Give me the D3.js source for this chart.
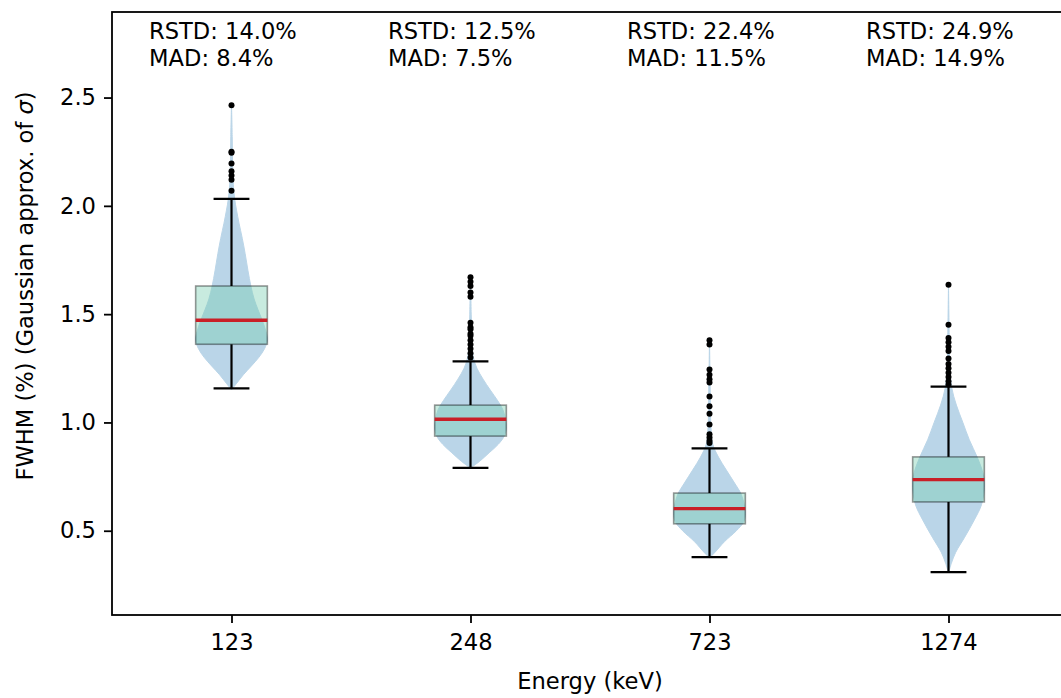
<!DOCTYPE html>
<html>
<head>
<meta charset="utf-8">
<script src="https://cdn.jsdelivr.net/npm/d3@7"></script>
<style>
  body { margin: 0; background: #fff; }
  text { font-family: "DejaVu Sans", sans-serif; fill: #000; }
</style>
</head>
<body>
<svg id="chart" width="1061" height="698"></svg>
<script>
// Energy lines (keV) and box statistics of FWHM (%)
const energies = ["123", "248", "723", "1274"];
const lowerWhiskers = [1.157, 0.790, 0.378, 0.309];
const q1Values = [1.361, 0.937, 0.532, 0.633];
const medians = [1.472, 1.015, 0.602, 0.736];
const q3Values = [1.630, 1.080, 0.674, 0.841];
const upperWhiskers = [2.032, 1.282, 0.880, 1.165];

// Points beyond the whiskers
const outliers123 = [2.465, 2.25, 2.245, 2.195, 2.16, 2.14, 2.12, 2.07];
const outliers248 = [1.67, 1.65, 1.63, 1.60, 1.58, 1.46, 1.44, 1.43, 1.41, 1.40, 1.38, 1.36, 1.34, 1.32, 1.30];
const outliers723 = [1.38, 1.36, 1.245, 1.22, 1.20, 1.185, 1.12, 1.075, 1.04, 0.99, 0.945, 0.93, 0.915, 0.905];
const outliers1274 = [1.636, 1.451, 1.39, 1.37, 1.35, 1.33, 1.295, 1.27, 1.25, 1.23, 1.21, 1.19, 1.175];

// Kernel density profiles: [FWHM value, relative density]
const density123 = [[1.15,0],[1.18,0.14],[1.22,0.33],[1.26,0.55],[1.30,0.76],[1.34,0.92],[1.38,1.0],[1.42,0.96],[1.47,0.86],[1.52,0.74],[1.57,0.63],[1.63,0.54],[1.70,0.46],[1.78,0.38],[1.85,0.30],[1.92,0.21],[1.98,0.14],[2.03,0.09],[2.10,0.05],[2.20,0.03],[2.32,0.02],[2.465,0]];
const density248 = [[0.79,0],[0.82,0.25],[0.86,0.52],[0.90,0.78],[0.94,0.95],[0.98,1.0],[1.02,0.97],[1.06,0.9],[1.10,0.76],[1.15,0.55],[1.20,0.35],[1.25,0.18],[1.30,0.08],[1.38,0.04],[1.50,0.02],[1.67,0]];
const density723 = [[0.375,0],[0.40,0.15],[0.45,0.42],[0.50,0.75],[0.54,0.95],[0.58,1.0],[0.62,0.97],[0.67,0.88],[0.72,0.7],[0.78,0.47],[0.84,0.25],[0.90,0.09],[0.98,0.04],[1.15,0.02],[1.38,0]];
const density1274 = [[0.305,0],[0.35,0.08],[0.40,0.2],[0.47,0.45],[0.55,0.72],[0.62,0.92],[0.70,1.0],[0.76,0.97],[0.84,0.80],[0.92,0.58],[1.00,0.40],[1.08,0.22],[1.16,0.09],[1.25,0.04],[1.40,0.02],[1.636,0]];

const outlierSets = [outliers123, outliers248, outliers723, outliers1274];
const densities = [density123, density248, density723, density1274];

// Spread measures printed above each group
const rstdLabels = ["14.0%", "12.5%", "22.4%", "24.9%"];
const madLabels = ["8.4%", "7.5%", "11.5%", "14.9%"];

const yTicks = [0.5, 1.0, 1.5, 2.0, 2.5];

const svg = d3.select("#chart");
const plotLeft = 112, plotRight = 1068, plotTop = 12, plotBottom = 615;
const FS = 22.6;

const x = d3.scaleLinear().domain([0.5, 4.5]).range([plotLeft, plotRight]);
const y = d3.scaleLinear().domain([0.111, 2.895]).range([plotBottom, plotTop]);

const boxW = 0.3, capW = 0.15, violinW = 0.3;
const pxPerUnit = x(1) - x(0);

const plot = svg.append("g");

energies.forEach((e, i) => {
  const cx = x(i + 1);
  const half = violinW * pxPerUnit / 2;

  // violin body
  const area = d3.area()
    .curve(d3.curveCatmullRom)
    .y(d => y(d[0]))
    .x0(d => cx - half * d[1])
    .x1(d => cx + half * d[1]);
  plot.append("path")
    .attr("d", area(densities[i]))
    .attr("fill", "#1f77b4")
    .attr("stroke", "#1f77b4")
    .attr("stroke-width", 1)
    .attr("opacity", 0.3);

  // whiskers and caps
  const capHalf = capW * pxPerUnit / 2;
  const lines = [
    [cx, y(upperWhiskers[i]), cx, y(q3Values[i])],
    [cx, y(q1Values[i]), cx, y(lowerWhiskers[i])],
    [cx - capHalf, y(upperWhiskers[i]), cx + capHalf, y(upperWhiskers[i])],
    [cx - capHalf, y(lowerWhiskers[i]), cx + capHalf, y(lowerWhiskers[i])]
  ];
  lines.forEach(l => {
    plot.append("line")
      .attr("x1", l[0]).attr("y1", l[1]).attr("x2", l[2]).attr("y2", l[3])
      .attr("stroke", "#000").attr("stroke-width", 2.2);
  });

  // box
  const bHalf = boxW * pxPerUnit / 2;
  plot.append("rect")
    .attr("x", cx - bHalf)
    .attr("y", y(q3Values[i]))
    .attr("width", 2 * bHalf)
    .attr("height", y(q1Values[i]) - y(q3Values[i]))
    .attr("fill", "rgb(118,205,175)")
    .attr("fill-opacity", 0.4)
    .attr("stroke", "#000")
    .attr("stroke-opacity", 0.4)
    .attr("stroke-width", 1.6);

  // median
  plot.append("line")
    .attr("x1", cx - bHalf).attr("x2", cx + bHalf)
    .attr("y1", y(medians[i])).attr("y2", y(medians[i]))
    .attr("stroke", "#c91f27").attr("stroke-width", 3.4);

  // outliers
  plot.selectAll(null).data(outlierSets[i]).enter().append("circle")
    .attr("cx", cx).attr("cy", d => y(d)).attr("r", 3)
    .attr("fill", "#000");

  // annotation
  const tx = x(i + 1 - 0.345);
  plot.append("text").attr("x", tx).attr("y", 39).attr("font-size", FS)
    .text("RSTD: " + rstdLabels[i]);
  plot.append("text").attr("x", tx).attr("y", 66).attr("font-size", FS)
    .text("MAD: " + madLabels[i]);
});

// axes
const xAxis = svg.append("g").attr("transform", `translate(0,${plotBottom})`)
  .call(d3.axisBottom(x).tickValues([1, 2, 3, 4]).tickFormat((d) => energies[d - 1])
    .tickSize(8).tickPadding(11).tickSizeOuter(0));
const yAxis = svg.append("g").attr("transform", `translate(${plotLeft},0)`)
  .call(d3.axisLeft(y).tickValues(yTicks).tickFormat(d3.format(".1f"))
    .tickSize(8).tickPadding(8).tickSizeOuter(0));
[xAxis, yAxis].forEach(g => {
  g.select(".domain").remove();
  g.attr("font-family", null).attr("font-size", null);
  g.selectAll(".tick line").attr("stroke", "#000").attr("stroke-width", 1.8);
  g.selectAll(".tick text").attr("font-size", FS).attr("fill", "#000");
});
xAxis.selectAll(".tick text").attr("dy", "0.71em");

// spines
svg.append("rect")
  .attr("x", plotLeft).attr("y", plotTop)
  .attr("width", plotRight - plotLeft).attr("height", plotBottom - plotTop)
  .attr("fill", "none").attr("stroke", "#000").attr("stroke-width", 1.8);

// axis titles
svg.append("text")
  .attr("x", (plotLeft + plotRight) / 2).attr("y", 689)
  .attr("text-anchor", "middle").attr("font-size", FS)
  .text("Energy (keV)");

const yl = svg.append("text")
  .attr("transform", "translate(33,286) rotate(-90)")
  .attr("text-anchor", "middle").attr("font-size", FS);
yl.append("tspan").text("FWHM (%) (Gaussian approx. of ");
yl.append("tspan").attr("font-style", "italic").text("σ");
yl.append("tspan").text(")");
</script>
</body>
</html>
